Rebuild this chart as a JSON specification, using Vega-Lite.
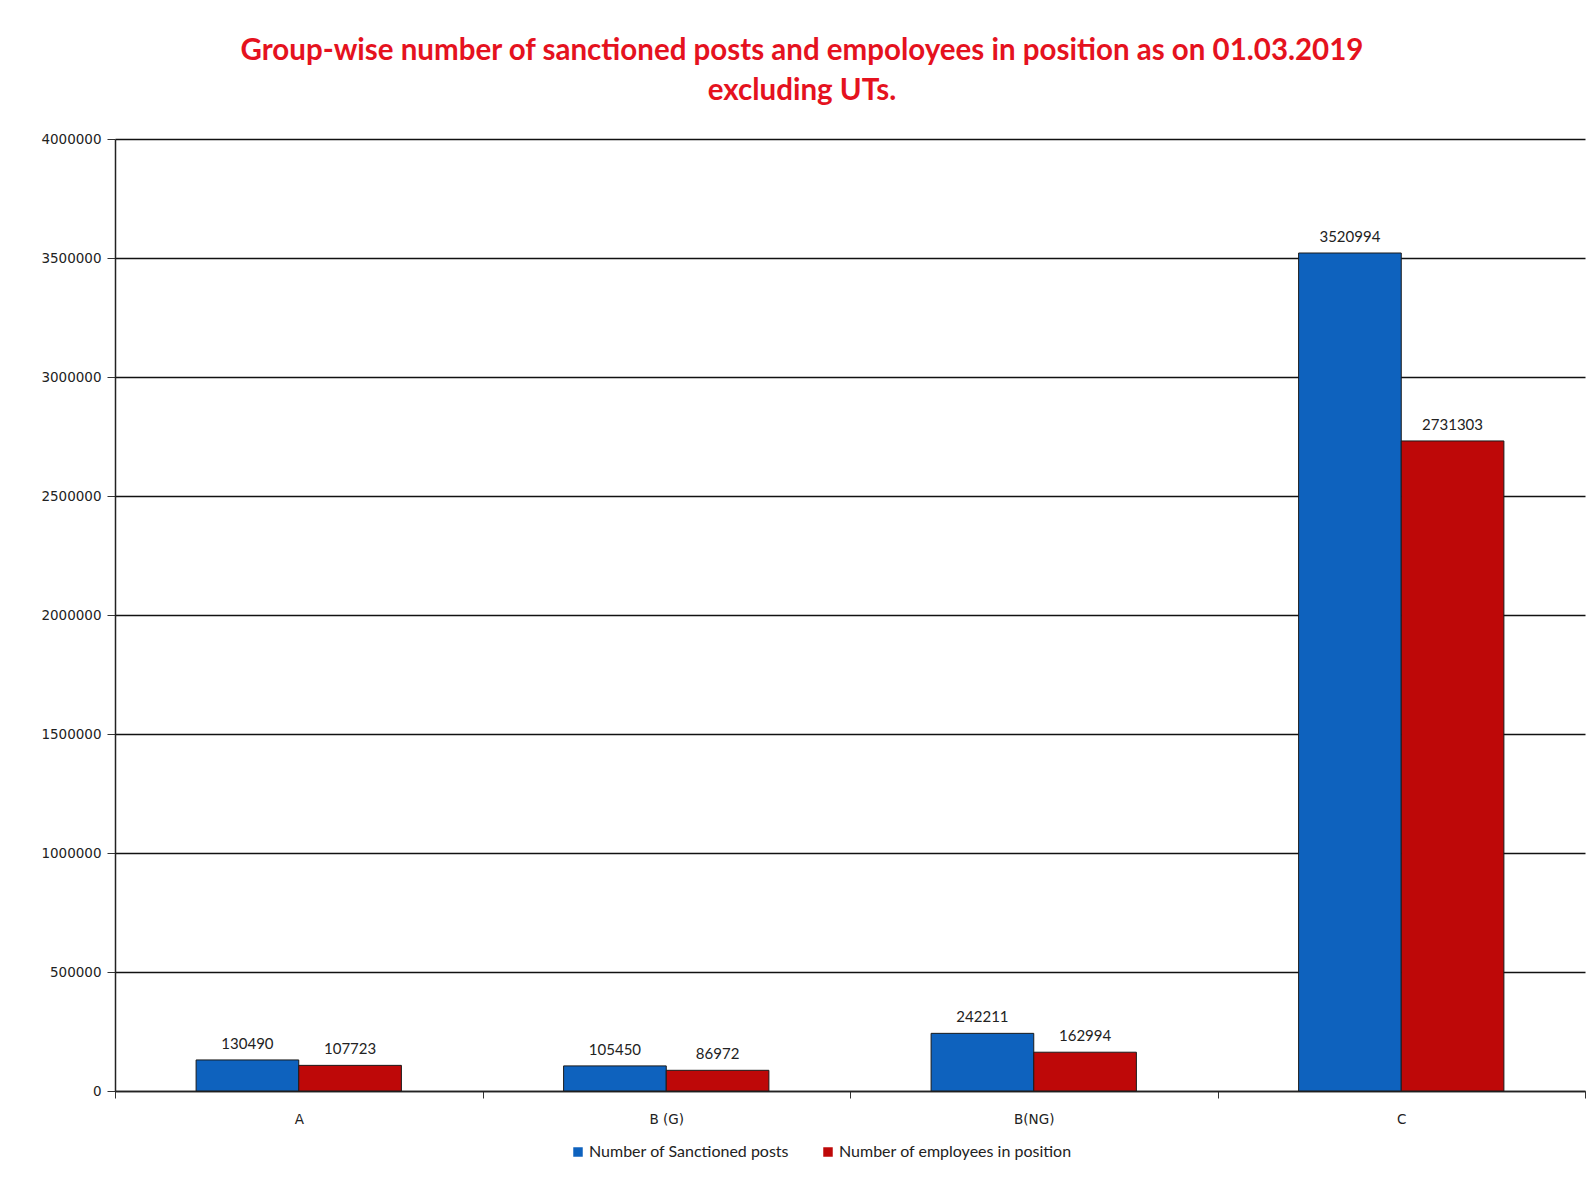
{
  "$schema": "https://vega.github.io/schema/vega-lite/v6.json",
  "autosize": {"type": "none"},
  "width": 1470,
  "height": 952,
  "padding": {"left": 115, "top": 139, "right": 10, "bottom": 97},
  "background": "white",
  "title": {
    "text": ["Group-wise number of sanctioned posts and empoloyees  in position as on 01.03.2019", "excluding  UTs."],
    "anchor": "middle",
    "frame": "group",
    "font": "Lato",
    "fontWeight": "bold",
    "fontSize": 29.5,
    "color": "#E5121E",
    "lineHeight": 40,
    "offset": 26,
    "dx": -48
  },
  "data": {
    "values": [
      {"group": "A", "series": "Number of Sanctioned posts", "value": 130490},
      {"group": "A", "series": "Number of employees in position", "value": 107723},
      {"group": "B (G)", "series": "Number of Sanctioned posts", "value": 105450},
      {"group": "B (G)", "series": "Number of employees in position", "value": 86972},
      {"group": "B(NG)", "series": "Number of Sanctioned posts", "value": 242211},
      {"group": "B(NG)", "series": "Number of employees in position", "value": 162994},
      {"group": "C", "series": "Number of Sanctioned posts", "value": 3520994},
      {"group": "C", "series": "Number of employees in position", "value": 2731303}
    ]
  },
  "encoding": {
    "x": {
      "field": "group", "type": "nominal", "sort": null,
      "scale": {"paddingInner": 0, "paddingOuter": 0},
      "axis": {
        "title": null, "labelAngle": 0, "labelFont": "DejaVu Sans", "labelFontSize": 13.5,
        "labelColor": "#222", "labelPadding": 14, "tickBand": "extent", "tickSize": 7,
        "tickColor": "#333", "domainColor": "#222", "domainWidth": 1.5, "grid": false
      }
    },
    "xOffset": {
      "field": "series", "type": "nominal", "sort": ["Number of Sanctioned posts", "Number of employees in position"],
      "scale": {"paddingInner": 0, "paddingOuter": 0.79}
    },
    "y": {
      "field": "value", "type": "quantitative",
      "scale": {"domain": [0, 4000000], "nice": false},
      "axis": {
        "title": null, "values": [0, 500000, 1000000, 1500000, 2000000, 2500000, 3000000, 3500000, 4000000],
        "format": "d", "labelFont": "DejaVu Sans", "labelFontSize": 13.5, "labelColor": "#222",
        "labelPadding": 6, "tickSize": 8, "tickColor": "#333", "domainColor": "#222", "domainWidth": 1.5,
        "grid": true, "gridColor": "#111", "gridWidth": 1.3
      }
    }
  },
  "layer": [
    {
      "mark": {"type": "bar", "stroke": "#1b1b1b", "strokeWidth": 1},
      "encoding": {
        "color": {
          "field": "series", "type": "nominal",
          "scale": {"domain": ["Number of Sanctioned posts", "Number of employees in position"], "range": ["#0E62BE", "#BE0808"]},
          "legend": {
            "title": null, "orient": "none", "direction": "horizontal", "legendX": 455, "legendY": 1005,
            "symbolType": "square", "symbolSize": 90, "symbolStrokeWidth": 0, "labelLimit": 0,
            "labelFont": "Lato", "labelFontSize": 16, "labelColor": "#222", "columnPadding": 30, "labelOffset": 3
          }
        }
      }
    },
    {
      "mark": {"type": "text", "dy": -16, "font": "Lato", "fontSize": 15, "color": "#222"},
      "encoding": {"text": {"field": "value", "type": "quantitative", "format": "d"}}
    }
  ],
  "config": {"view": {"stroke": null}}
}
